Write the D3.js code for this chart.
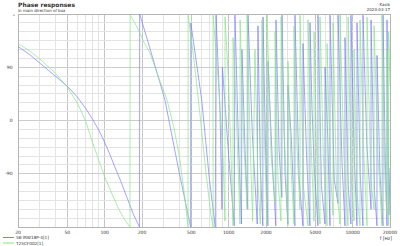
<!DOCTYPE html>
<html><head><meta charset="utf-8">
<script src="https://cdn.jsdelivr.net/npm/d3@7"></script>
<style>body{margin:0;background:#fff}svg{display:block}text{font-family:"DejaVu Sans",sans-serif;fill:#333}</style>
</head><body><svg id="c" width="400" height="246"></svg>
<script>
const title = "Phase responses";
const subtitle = "in main direction of box";
const author = "Kasik";
const date = "2020-03-17";
const xTicks = [20, 50, 100, 200, 500, 1000, 2000, 5000, 10000, 20000];
const yTicks = [90, 0, -90];
const seriesNames = ["SB IRW18P-4[1]", "T25CF002[1]"];
const seriesColors = ["#7d7dff", "#86e486"];

const blue = [[20,125],[25,111],[30,97],[40,75],[50,58],[60,40],[70,21],[80,2],[90,-17],[100,-37],[110,-57],[120,-77],[135,-103],[150,-128],[170,-158],[191,-180],[191.5,180],[231,123],[306,35],[400,-89],[494,-180],[495,165],[606,35],[700,-100],[780,-180],[791,178],[850,20],[884,-150],[890,90],[1000,-60],[1110,-178],[1124,178],[1200,-40],[1270,-175],[1280,120],[1360,-60],[1425,-150],[1432,178],[1550,-20],[1700,-175],[1722,160],[1800,-80],[1885,-178],[1892,175],[1980,-40],[2070,-178],[2076,100],[2250,-70],[2400,-178],[2408,170],[2550,-50],[2685,-130],[2692,178],[2850,-90],[3000,-175],[3008,60],[3200,-30],[3420,-178],[3426,178],[3700,-100],[3970,-178],[3974,130],[4250,-60],[4520,-178],[4528,165],[4700,20],[4900,-80],[5245,-178],[5252,178],[5600,-110],[5980,-175],[5984,90],[6300,-30],[6560,-178],[6566,178],[7100,-100],[7610,-140],[7620,178],[8200,-70],[8665,-178],[8672,140],[9200,-110],[9680,-175],[9688,178],[10300,-60],[10830,-178],[10840,165],[11500,-90],[12100,-178],[12112,178],[13000,-40],[14060,-150],[14070,170],[15000,-120],[15700,-178],[15714,110],[16600,-90],[17560,-178],[17572,178],[18300,-60],[18910,-178],[18918,170],[19600,-160],[20000,-80]];

const green = [[20,130],[25,117],[30,104],[40,80],[49.4,58],[60,30],[70,0],[78.6,-33],[90,-68],[100,-95],[115,-125],[130,-150],[145,-168],[160,-180],[160.5,178],[175,165],[190,150],[210,130],[232,114],[270,75],[318,35],[360,-10],[400,-60],[440,-125],[470,-180],[471,178],[520,110],[580,20],[650,-80],[720,-160],[748,-180],[749,178],[830,60],[900,-60],[934,-170],[935,175],[1000,60],[1060,-100],[1084,-178],[1085,140],[1150,20],[1234,-175],[1236,170],[1320,-30],[1406,-150],[1408,178],[1500,-60],[1560,-170],[1630,120],[1720,-100],[1800,-175],[1858,170],[1950,-40],[2038,-178],[2040,178],[2200,-60],[2364,-140],[2366,150],[2500,-100],[2642,-170],[2645,175],[2800,-20],[3008,-178],[3010,100],[3200,-90],[3364,-175],[3366,160],[3550,-40],[3760,-150],[3762,178],[4000,-110],[4364,-178],[4366,170],[4600,-30],[4876,-170],[4880,150],[5200,-120],[5450,-175],[5455,175],[5800,-60],[6210,-178],[6215,130],[6600,-80],[6938,-160],[6945,165],[7400,-110],[7904,-175],[7910,178],[8500,-60],[9172,-178],[9180,175],[9700,-90],[10248,-170],[10260,120],[10800,-120],[11456,-178],[11465,170],[12200,-40],[13052,-178],[13060,175],[14000,-100],[14872,-150],[14880,160],[16000,-60],[17230,-178],[17240,178],[18200,-100],[18918,-160],[18930,120],[19500,-178],[19510,150],[20000,60]];

const svg = d3.select("#c");
const L = 18, R = 390, T = 14, B = 227;
const x = d3.scaleLog().domain([20, 20000]).range([L, R]);
const y = d3.scaleLinear().domain([-180, 180]).range([B, T]);

// grid
const minor = [];
[10, 100, 1000, 10000].forEach(dec => { for (let k = 1; k <= 9; k++) { const v = dec * k; if (v >= 20 && v <= 20000) minor.push(v); } });
const g = svg.append("g");
g.selectAll("line.vx").data(minor).join("line")
  .attr("x1", d => x(d)).attr("x2", d => x(d)).attr("y1", T).attr("y2", B)
  .attr("stroke", d => xTicks.includes(d) ? "#c4c4c4" : "#e3e3e3").attr("stroke-width", 1).attr("shape-rendering", "crispEdges");
const hy = d3.range(-180, 181, 15);
g.selectAll("line.hy").data(hy).join("line")
  .attr("x1", L).attr("x2", R).attr("y1", d => y(d)).attr("y2", d => y(d))
  .attr("stroke", d => d % 90 === 0 ? "#cccccc" : "#e3e3e3").attr("stroke-width", 1).attr("shape-rendering", "crispEdges");
g.append("rect").attr("x", L).attr("y", T).attr("width", R - L).attr("height", B - T)
  .attr("fill", "none").attr("stroke", "#b4b4b4").attr("shape-rendering", "crispEdges");

svg.append("clipPath").attr("id", "cp").append("rect").attr("x", L).attr("y", T - 1).attr("width", R - L).attr("height", B - T + 2);
const line = d3.line().x(d => x(d[0])).y(d => y(d[1]));
const plot = svg.append("g").attr("clip-path", "url(#cp)");
[blue, green].forEach((s, i) => {
  plot.append("path").datum(s).attr("d", line).attr("fill", "none")
    .attr("stroke", seriesColors[i]).attr("stroke-width", 0.7);
});

// axes labels
svg.append("g").selectAll("text").data(xTicks).join("text")
  .attr("x", d => x(d)).attr("y", 234).attr("text-anchor", "middle").attr("font-size", 4.5).text(d => d);
svg.append("text").attr("x", 392).attr("y", 239.5).attr("text-anchor", "end").attr("font-size", 4.5).text("f [Hz]");
svg.append("g").selectAll("text").data(yTicks).join("text")
  .attr("x", 12.5).attr("y", d => y(d) + 1.6).attr("text-anchor", "end").attr("font-size", 4.5).text(d => d);
svg.append("text").attr("x", 15).attr("y", 17.5).attr("text-anchor", "end").attr("font-size", 4.5).text("°");

// titles
svg.append("text").attr("x", 18).attr("y", 7).attr("font-size", 6).attr("font-weight", "bold").text(title);
svg.append("text").attr("x", 18).attr("y", 12).attr("font-size", 4).text(subtitle);
svg.append("text").attr("x", 390).attr("y", 6).attr("text-anchor", "end").attr("font-size", 4).text(author);
svg.append("text").attr("x", 390).attr("y", 11).attr("text-anchor", "end").attr("font-size", 4).text(date);

// legend
const lg = svg.append("g");
seriesNames.forEach((n, i) => {
  const yy = 237.5 + i * 5.5;
  lg.append("line").attr("x1", 3).attr("x2", 14).attr("y1", yy).attr("y2", yy).attr("stroke", seriesColors[i]).attr("stroke-width", 1);
  lg.append("text").attr("x", 16).attr("y", yy + 1.5).attr("font-size", 4.2).text(n);
});
</script></body></html>
